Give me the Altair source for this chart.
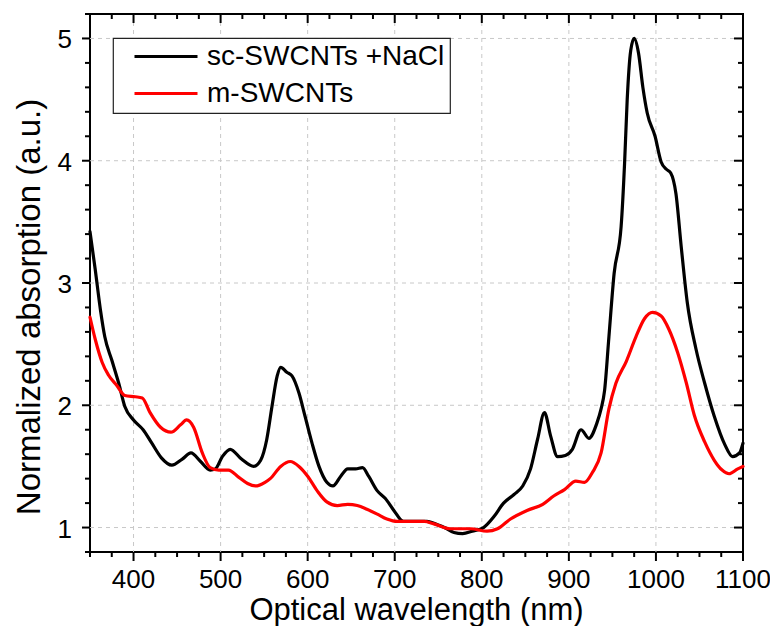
import altair as alt
import pandas as pd

# ---- data ----
series_names = ["sc-SWCNTs +NaCl", "m-SWCNTs"]
series_colors = ["#000000", "#ff0000"]

sc_nm = [350, 356, 362, 367, 375, 383, 390, 400, 411, 421,
         432, 444, 456, 466, 477, 488, 494, 502, 511, 524,
         538, 546, 553, 559, 565, 569, 576, 582, 590, 597,
         605, 613, 622, 629, 638, 646, 655, 663, 670, 680,
         689, 699, 710, 722, 737, 750, 757, 768, 778, 789,
         802, 814, 825, 837, 847, 856, 864, 872, 879, 887,
         896, 904, 914, 923, 932, 937, 941, 946, 952, 960,
         964, 967, 971, 975, 980, 985, 990, 999, 1006, 1012,
         1017, 1023, 1029, 1036, 1046, 1056, 1067, 1079, 1088, 1096,
         1100]
sc_abs = [3.42, 3.11, 2.78, 2.56, 2.37, 2.18, 1.99, 1.88, 1.80, 1.69,
          1.57, 1.51, 1.56, 1.61, 1.54, 1.47, 1.48, 1.58, 1.64, 1.56,
          1.50, 1.55, 1.72, 1.99, 2.24, 2.31, 2.27, 2.24, 2.10, 1.91,
          1.69, 1.50, 1.37, 1.34, 1.42, 1.48, 1.48, 1.49, 1.42, 1.30,
          1.24, 1.14, 1.05, 1.05, 1.05, 1.02, 1.00, 0.96, 0.95, 0.97,
          1.00, 1.09, 1.20, 1.27, 1.34, 1.48, 1.72, 1.94, 1.75, 1.58,
          1.59, 1.64, 1.80, 1.73, 1.85, 1.97, 2.12, 2.56, 3.08, 3.46,
          3.98, 4.50, 4.90, 5.00, 4.88, 4.60, 4.39, 4.20, 3.99, 3.93,
          3.90, 3.73, 3.30, 2.84, 2.46, 2.18, 1.91, 1.68, 1.58, 1.61,
          1.69]

m_nm = [350, 356, 364, 371, 381, 390, 402, 410, 419, 431,
        443, 454, 461, 469, 479, 488, 498, 509, 521, 531,
        540, 551, 557, 569, 580, 590, 600, 611, 622, 634,
        646, 657, 668, 680, 691, 703, 718, 734, 745, 764,
        787, 806, 818, 833, 852, 870, 883, 895, 908, 918,
        927, 937, 946, 954, 966, 977, 987, 996, 1006, 1015,
        1025, 1035, 1044, 1056, 1067, 1076, 1084, 1094, 1100]
m_abs = [2.72, 2.54, 2.35, 2.25, 2.16, 2.08, 2.07, 2.06, 1.94, 1.82,
         1.78, 1.84, 1.88, 1.82, 1.61, 1.49, 1.47, 1.47, 1.41, 1.36,
         1.34, 1.37, 1.40, 1.50, 1.54, 1.50, 1.42, 1.30, 1.21, 1.18,
         1.19, 1.18, 1.15, 1.11, 1.07, 1.05, 1.05, 1.05, 1.03, 0.99,
         0.99, 0.97, 0.99, 1.07, 1.14, 1.19, 1.26, 1.31, 1.38, 1.37,
         1.45, 1.61, 1.97, 2.18, 2.36, 2.56, 2.71, 2.76, 2.73, 2.62,
         2.43, 2.18, 1.92, 1.70, 1.55, 1.47, 1.44, 1.48, 1.50]

# ---- tick positions and tick labels ----
x_major = [400, 500, 600, 700, 800, 900, 1000, 1100]
x_labels = ["400", "500", "600", "700", "800", "900", "1000", "1100"]
x_grid = [400, 500, 600, 700, 800, 900, 1000]
x_minor = [350, 375, 425, 450, 475, 525, 550, 575, 625, 650, 675, 725,
           750, 775, 825, 850, 875, 925, 950, 975, 1025, 1050, 1075]
y_major = [1, 2, 3, 4, 5]
y_labels = ["1", "2", "3", "4", "5"]
y_minor = [0.8, 1.2, 1.4, 1.6, 1.8, 2.2, 2.4, 2.6, 2.8, 3.2, 3.4, 3.6,
           3.8, 4.2, 4.4, 4.6, 4.8, 5.2]

x_title = "Optical wavelength (nm)"
y_title = "Normalized absorption (a.u.)"

df = pd.concat([
    pd.DataFrame({"nm": sc_nm, "absorb": sc_abs, "series": series_names[0]}),
    pd.DataFrame({"nm": m_nm, "absorb": m_abs, "series": series_names[1]}),
], ignore_index=True)

FONT = "Liberation Sans, Arial, Helvetica, sans-serif"
W, H = 653, 538
GRID = "#c8c8c8"
X0, X1, Y0, Y1 = 350, 1100, 0.8, 5.2

xscale = alt.Scale(domain=[X0, X1], nice=False, zero=False)
yscale = alt.Scale(domain=[Y0, Y1], nice=False, zero=False)

legend = alt.Legend(
    title=None, orient="none", legendX=23, legendY=24, direction="vertical",
    symbolType="stroke", symbolSize=3969, symbolStrokeWidth=3, clipHeight=27,
    labelFont=FONT, labelFontSize=28, labelColor="black", labelLimit=500,
    labelOffset=8, symbolOffset=15, padding=5, rowPadding=8,
    strokeColor="#222222", fillColor="white")

main = alt.Chart(df).mark_line(strokeWidth=3.2, interpolate="monotone",
                               strokeJoin="round", strokeCap="round").encode(
    x=alt.X("nm:Q", scale=xscale, axis=None),
    y=alt.Y("absorb:Q", scale=yscale, axis=None),
    color=alt.Color("series:N", scale=alt.Scale(domain=series_names, range=series_colors),
                    legend=legend),
)


def xgrid(values):
    return alt.Chart(pd.DataFrame({"gx": values})).mark_rule(
        color=GRID, strokeWidth=1, strokeDash=[4, 4]).encode(
        x=alt.X("gx:Q", scale=xscale, axis=None),
        y=alt.value(0), y2=alt.value(H))


def ygrid(values):
    return alt.Chart(pd.DataFrame({"gy": values})).mark_rule(
        color=GRID, strokeWidth=1, strokeDash=[4, 4]).encode(
        y=alt.Y("gy:Q", scale=yscale, axis=None),
        x=alt.value(0), x2=alt.value(W))


# frame ticks: outward on left/bottom, inward on top/right (placed through the scales)
def xticks(values, y0, y1):
    return alt.Chart(pd.DataFrame({"v": values})).mark_rule(
        color="black", strokeWidth=2).encode(
        x=alt.X("v:Q", scale=xscale, axis=None),
        y=alt.value(y0), y2=alt.value(y1))


def yticks(values, x0, x1):
    return alt.Chart(pd.DataFrame({"v": values})).mark_rule(
        color="black", strokeWidth=2).encode(
        y=alt.Y("v:Q", scale=yscale, axis=None),
        x=alt.value(x0), x2=alt.value(x1))


x_tick_labels = alt.Chart(pd.DataFrame({"lx": x_major, "t": x_labels})).mark_text(
    font=FONT, fontSize=26, color="black", align="center", baseline="top").encode(
    x=alt.X("lx:Q", scale=xscale, axis=None), y=alt.value(H + 15), text="t:N")

y_tick_labels = alt.Chart(pd.DataFrame({"ly": y_major, "t": y_labels})).mark_text(
    font=FONT, fontSize=26, color="black", align="right", baseline="middle", dy=2).encode(
    y=alt.Y("ly:Q", scale=yscale, axis=None), x=alt.value(-18), text="t:N")

x_title_mark = alt.Chart(pd.DataFrame({"t": [x_title]})).mark_text(
    font=FONT, fontSize=31, color="black", align="center", baseline="alphabetic").encode(
    x=alt.value(W / 2), y=alt.value(H + 68), text="t:N")

y_title_mark = alt.Chart(pd.DataFrame({"t": [y_title]})).mark_text(
    font=FONT, fontSize=33, color="black", align="center", baseline="alphabetic",
    angle=270).encode(
    x=alt.value(-50), y=alt.value(293), text="t:N")

chart = alt.layer(
    x_tick_labels, y_tick_labels, x_title_mark, y_title_mark,
    xgrid(x_grid), ygrid(y_major),
    main,
    xticks(x_major, H, H + 9), xticks(x_minor, H, H + 5),
    xticks(x_major, 0, 9), xticks(x_minor, 0, 5),
    yticks(y_major, 0, -8), yticks(y_minor, 0, -5),
    yticks(y_major, W, W - 9), yticks(y_minor, W, W - 5),
).properties(
    width=W, height=H,
    padding={"left": 82, "top": 6, "right": 27, "bottom": 74},
    autosize=alt.AutoSizeParams(type="none"),
).configure_view(stroke="black", strokeWidth=2).configure_legend(strokeWidth=1.2)

chart.save("out.html", embed_options={"renderer": "svg", "actions": False})
